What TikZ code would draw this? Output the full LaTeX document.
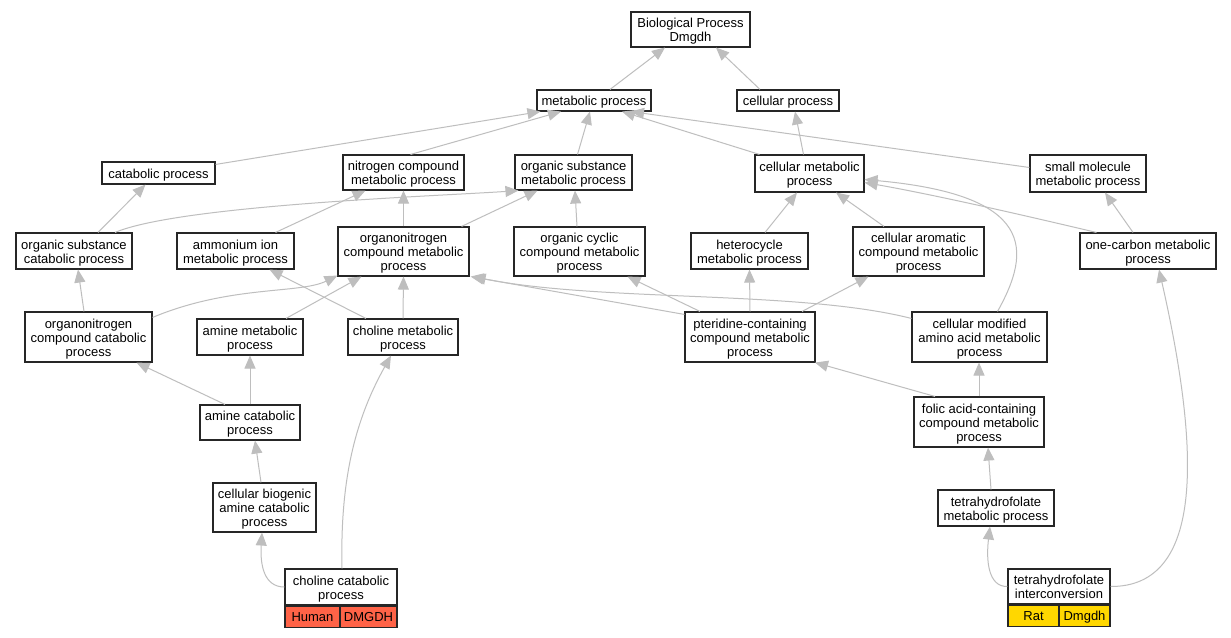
\documentclass[tikz,border=0pt]{standalone}
\usepackage{fontspec}
\setmainfont{Liberation Sans}
\usetikzlibrary{arrows.meta}
\definecolor{edgegray}{RGB}{190,190,190}
\definecolor{humanred}{RGB}{255,99,71}
\definecolor{ratgold}{RGB}{255,215,0}
\begin{document}
\begin{tikzpicture}[x=1pt,y=1pt,
  box/.style={draw=black!85, line width=1.1pt, fill=white, align=center, inner sep=0pt,
    font=\fontsize{13}{14}\selectfont, text depth=2.7pt, text height=13.3pt},
  boxtwo/.style={box, text height=27.3pt},
  boxthree/.style={box, text height=41.3pt},
  cell/.style={box, minimum height=21pt},
  edge/.style={draw=edgegray, line width=1pt, -{Triangle[length=13pt,width=11pt]}, color=edgegray},
]
\useasboundingbox (0,0) rectangle (1231,-637);
\fill[white] (0,0) rectangle (1231,-637);

% nodes
\node[boxtwo, minimum width=119, minimum height=35] (bp) at (690.5,-29.5) {Biological Process\\Dmgdh};
\node[box, minimum width=114, minimum height=21] (met) at (594,-100.5) {metabolic process};
\node[box, minimum width=102, minimum height=21] (cp) at (788,-100.5) {cellular process};
\node[box, minimum width=113, minimum height=22] (cat) at (158.5,-173) {catabolic process};
\node[boxtwo, minimum width=121, minimum height=35] (nit) at (403.5,-172.5) {nitrogen compound\\metabolic process};
\node[boxtwo, minimum width=117, minimum height=35] (osm) at (573.5,-172.5) {organic substance\\metabolic process};
\node[boxtwo, minimum width=109, minimum height=37] (cm) at (809.5,-173.5) {cellular metabolic\\process};
\node[boxtwo, minimum width=116, minimum height=37] (sm) at (1088,-173.5) {small molecule\\metabolic process};
\node[boxtwo, minimum width=116, minimum height=36] (osc) at (74,-251) {organic substance\\catabolic process};
\node[boxtwo, minimum width=117, minimum height=36] (amm) at (235.5,-251) {ammonium ion\\metabolic process};
\node[boxthree, minimum width=131, minimum height=49] (onm) at (403.5,-251.5) {organonitrogen\\compound metabolic\\process};
\node[boxthree, minimum width=131, minimum height=49] (occ) at (579.5,-251.5) {organic cyclic\\compound metabolic\\process};
\node[boxtwo, minimum width=117, minimum height=36] (het) at (749.5,-251) {heterocycle\\metabolic process};
\node[boxthree, minimum width=131, minimum height=49] (car) at (918.5,-251.5) {cellular aromatic\\compound metabolic\\process};
\node[boxtwo, minimum width=136, minimum height=36] (one) at (1148,-251) {one-carbon metabolic\\process};
\node[boxthree, minimum width=127, minimum height=50] (onc) at (88.5,-337) {organonitrogen\\compound catabolic\\process};
\node[boxtwo, minimum width=106, minimum height=36] (amn) at (250,-337) {amine metabolic\\process};
\node[boxtwo, minimum width=110, minimum height=36] (chm) at (403,-337) {choline metabolic\\process};
\node[boxthree, minimum width=130, minimum height=50] (pte) at (750,-337) {pteridine-containing\\compound metabolic\\process};
\node[boxthree, minimum width=135, minimum height=50] (cma) at (979.5,-337) {cellular modified\\amino acid metabolic\\process};
\node[boxtwo, minimum width=100, minimum height=35] (amc) at (250,-422.5) {amine catabolic\\process};
\node[boxthree, minimum width=130, minimum height=50] (fol) at (979,-422) {folic acid-containing\\compound metabolic\\process};
\node[boxthree, minimum width=103, minimum height=49] (cba) at (264.5,-507.5) {cellular biogenic\\amine catabolic\\process};
\node[boxtwo, minimum width=116, minimum height=36] (thm) at (996,-508) {tetrahydrofolate\\metabolic process};

% leaf nodes with coloured cells
\node[boxtwo, minimum width=112, minimum height=36] (chc) at (341,-587) {choline catabolic\\process};
\node[cell, fill=humanred, minimum width=55, anchor=north west] (chch) at (chc.south west) {Human};
\node[cell, fill=humanred, minimum width=57, anchor=north east] (chcd) at (chc.south east) {DMGDH};
\node[boxtwo, minimum width=102, minimum height=35] (thi) at (1059,-586.5) {tetrahydrofolate\\interconversion};
\node[cell, fill=ratgold, minimum width=51, anchor=north west] (thir) at (thi.south west) {Rat};
\node[cell, fill=ratgold, minimum width=51, anchor=north east] (thid) at (thi.south east) {Dmgdh};

% edges
\draw[edge] ([xshift=16]met.north) -- ([xshift=-25.5]bp.south);
\draw[edge] ([xshift=-28]cp.north) -- ([xshift=25.5]bp.south);
\draw[edge] ([yshift=-3]cat.north east) -- ([xshift=4]met.south west);
\draw[edge] ([xshift=7]nit.north) -- ([xshift=-33]met.south);
\draw[edge] ([xshift=4]osm.north) -- ([xshift=-4]met.south);
\draw[edge] ([xshift=-50]cm.north) -- ([xshift=28]met.south);
\draw[edge] ([yshift=6]sm.west) -- ([xshift=37]met.south);
\draw[edge] ([xshift=-6]cm.north) -- ([xshift=7]cp.south);
\draw[edge] ([xshift=24]osc.north) -- ([xshift=-13]cat.south);
\draw[edge] ([xshift=41]osc.north) .. controls (180,-205) and (440,-196) .. ([xshift=4]osm.south west);
\draw[edge] ([xshift=40]amm.north) -- ([xshift=-38]nit.south);
\draw[edge] (onm.north) -- (nit.south);
\draw[edge] ([xshift=58]onm.north) -- ([xshift=-36]osm.south);
\draw[edge] ([xshift=-2.5]occ.north) -- ([xshift=1.5]osm.south);
\draw[edge] ([xshift=15.5]het.north) -- ([xshift=-12.5]cm.south);
\draw[edge] ([xshift=-34.5]car.north) -- ([xshift=26.5]cm.south);
\draw[edge] ([xshift=17]one.north west) .. controls (1010,-212) and (930,-194) .. ([yshift=-9]cm.east);
\draw[edge] ([xshift=-15]one.north) -- ([xshift=17]sm.south);
\draw[edge] ([xshift=18]cma.north) .. controls (1032,-250) and (1035,-195) .. ([yshift=-6]cm.east);
\draw[edge] ([xshift=-4.5]onc.north) -- ([xshift=4]osc.south);
\draw[edge] ([yshift=-6]onc.north east) .. controls (230,-285) and (300,-294) .. ([yshift=1]onm.south west);
\draw[edge] ([xshift=36]amn.north) -- ([xshift=-42]onm.south);
\draw[edge] (chm.north) -- (onm.south);
\draw[edge] ([xshift=-37]chm.north) -- ([xshift=34]amm.south);
\draw[edge] ([yshift=-3]pte.north west) -- ([xshift=1]onm.south east);
\draw[edge] ([xshift=-50]pte.north) -- ([xshift=48]occ.south);
\draw[edge] (pte.north) -- (het.south);
\draw[edge] ([xshift=52]pte.north) -- ([xshift=-50]car.south);
\draw[edge] ([yshift=-7]cma.north west) .. controls (800,-290) and (600,-302) .. ([xshift=3]onm.south east);
\draw[edge] ([xshift=-25]amc.north) -- ([xshift=48]onc.south);
\draw[edge] (amc.north) -- (amn.south);
\draw[edge] ([xshift=-44]fol.north) -- ([xshift=65]pte.south);
\draw[edge] (fol.north) -- ([xshift=-0.5]cma.south);
\draw[edge] ([xshift=-3.5]cba.north) -- ([xshift=5]amc.south);
\draw[edge] ([xshift=-5]thm.north) -- ([xshift=9]fol.south);
\draw[edge] (chc.west) .. controls (264,-587) and (260,-565) .. ([xshift=-2.5]cba.south);
\draw[edge] ([xshift=1]chc.north) .. controls (340,-480) and (355,-420) .. ([xshift=-12]chm.south);
\draw[edge] (thi.west) .. controls (988,-587) and (986,-560) .. ([xshift=-6]thm.south);
\draw[edge] (thi.east) .. controls (1205,-587) and (1200,-450) .. ([xshift=11]one.south);
\end{tikzpicture}
\end{document}
